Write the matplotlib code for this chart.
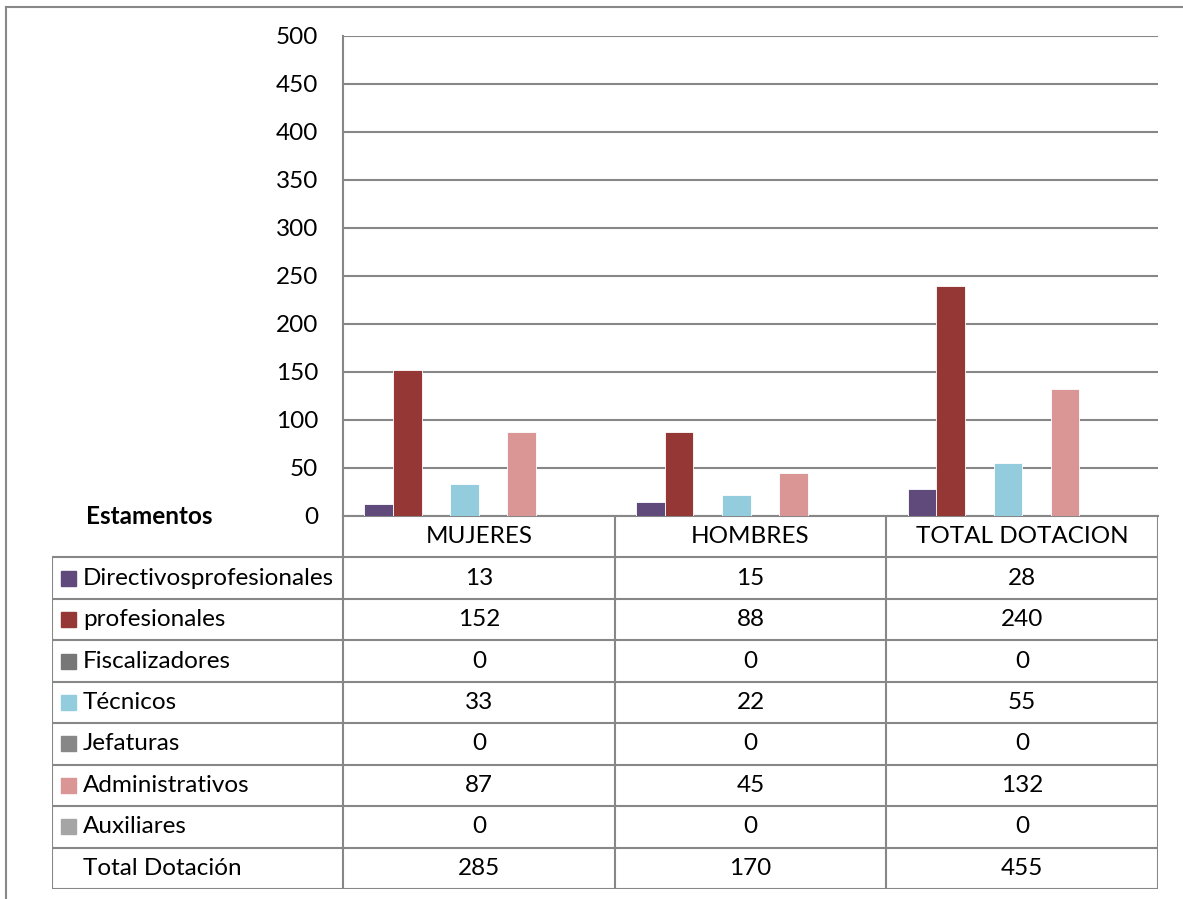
import matplotlib.pyplot as plt
from matplotlib.patches import Rectangle

W, H = 1183, 899

categories = ['MUJERES', 'HOMBRES', 'TOTAL DOTACION']
series = ['Directivosprofesionales', 'profesionales', 'Fiscalizadores', 'Técnicos',
          'Jefaturas', 'Administrativos', 'Auxiliares']
values = [
    [13, 15, 28],
    [152, 88, 240],
    [0, 0, 0],
    [33, 22, 55],
    [0, 0, 0],
    [87, 45, 132],
    [0, 0, 0],
]
total_label = 'Total Dotación'
totals = [285, 170, 455]
colors = ['#604A7B', '#953735', '#777777', '#93CDDD', '#878787', '#D99694', '#A5A5A5']
yticks = list(range(0, 501, 50))

plt.rcParams['font.family'] = ['Lato', 'DejaVu Sans']
fs = 17.5
grid_c = '#878787'


def px(x0, y0, x1, y1):
    return [x0 / W, 1 - y1 / H, (x1 - x0) / W, (y1 - y0) / H]


fig = plt.figure(figsize=(W / 100, H / 100), dpi=100)

# outer frame
fig.add_artist(plt.Line2D([6 / W, 6 / W], [0, 1 - 7 / H], color='#888888', lw=1.5))
fig.add_artist(plt.Line2D([6 / W, 1], [1 - 7 / H, 1 - 7 / H], color='#888888', lw=1.5))

ax = fig.add_axes(px(343, 36, 1158, 516))
# the total row is a series too (not filled), so it keeps a slot in each group
slots = len(series) + 1
bw = 1 / (slots + 1.5)
for i, (name, vals) in enumerate(zip(series, values)):
    xs = [j + (i - (slots - 1) / 2) * bw for j in range(len(categories))]
    ax.bar(xs, vals, width=bw, color=colors[i], edgecolor='white', linewidth=0.6, zorder=3)

ax.set_xlim(-0.5, len(categories) - 0.5)
ax.set_ylim(0, 500)
ax.set_yticks(yticks)
ax.set_xticks([])
ax.tick_params(axis='y', length=0, pad=18, labelsize=fs)
ax.grid(axis='y', color=grid_c, lw=1.5, zorder=0)
for s in ['top', 'right']:
    ax.spines[s].set_visible(False)
for s in ['left', 'bottom']:
    ax.spines[s].set_color(grid_c)
    ax.spines[s].set_linewidth(1.5)

fig.text(86 / W, 1 - 517 / H, 'Estamentos', fontsize=fs, fontweight='bold', va='center', ha='left')

# data table
cat_px = (1158 - 343) / len(categories)
lab_w = (343 - 52) / cat_px
tx = fig.add_axes(px(52, 516, 1158, 889))
nrows = len(series) + 2
tx.set_xlim(-0.5 - lab_w, len(categories) - 0.5)
tx.set_ylim(nrows, 0)
tx.axis('off')
lk = dict(color=grid_c, lw=1.5, solid_capstyle='butt')
for k in range(len(categories) + 1):
    tx.plot([k - 0.5, k - 0.5], [0, nrows], **lk)
tx.plot([-0.5 - lab_w] * 2, [1, nrows], **lk)
for r in range(1, nrows + 1):
    tx.plot([-0.5 - lab_w, len(categories) - 0.5], [r, r], **lk)

for j, c in enumerate(categories):
    tx.text(j, 0.5, c, ha='center', va='center', fontsize=fs)

row_px = (889 - 516) / nrows
sq_x = -0.5 - lab_w + 9 / cat_px
sq_w = 15 / cat_px
sq_h = 15 / row_px
rows = list(zip(series, values, colors)) + [(total_label, totals, None)]
for r, (name, vals, col) in enumerate(rows, start=1):
    yc = r + 0.5
    if col is not None:
        tx.add_patch(Rectangle((sq_x, yc - sq_h / 2), sq_w, sq_h, color=col))
    tx.text(-0.5 - lab_w + 31 / cat_px, yc, name, ha='left', va='center', fontsize=fs)
    for j, v in enumerate(vals):
        tx.text(j, yc, str(v), ha='center', va='center', fontsize=fs)

fig.savefig('out.png', dpi=100)
